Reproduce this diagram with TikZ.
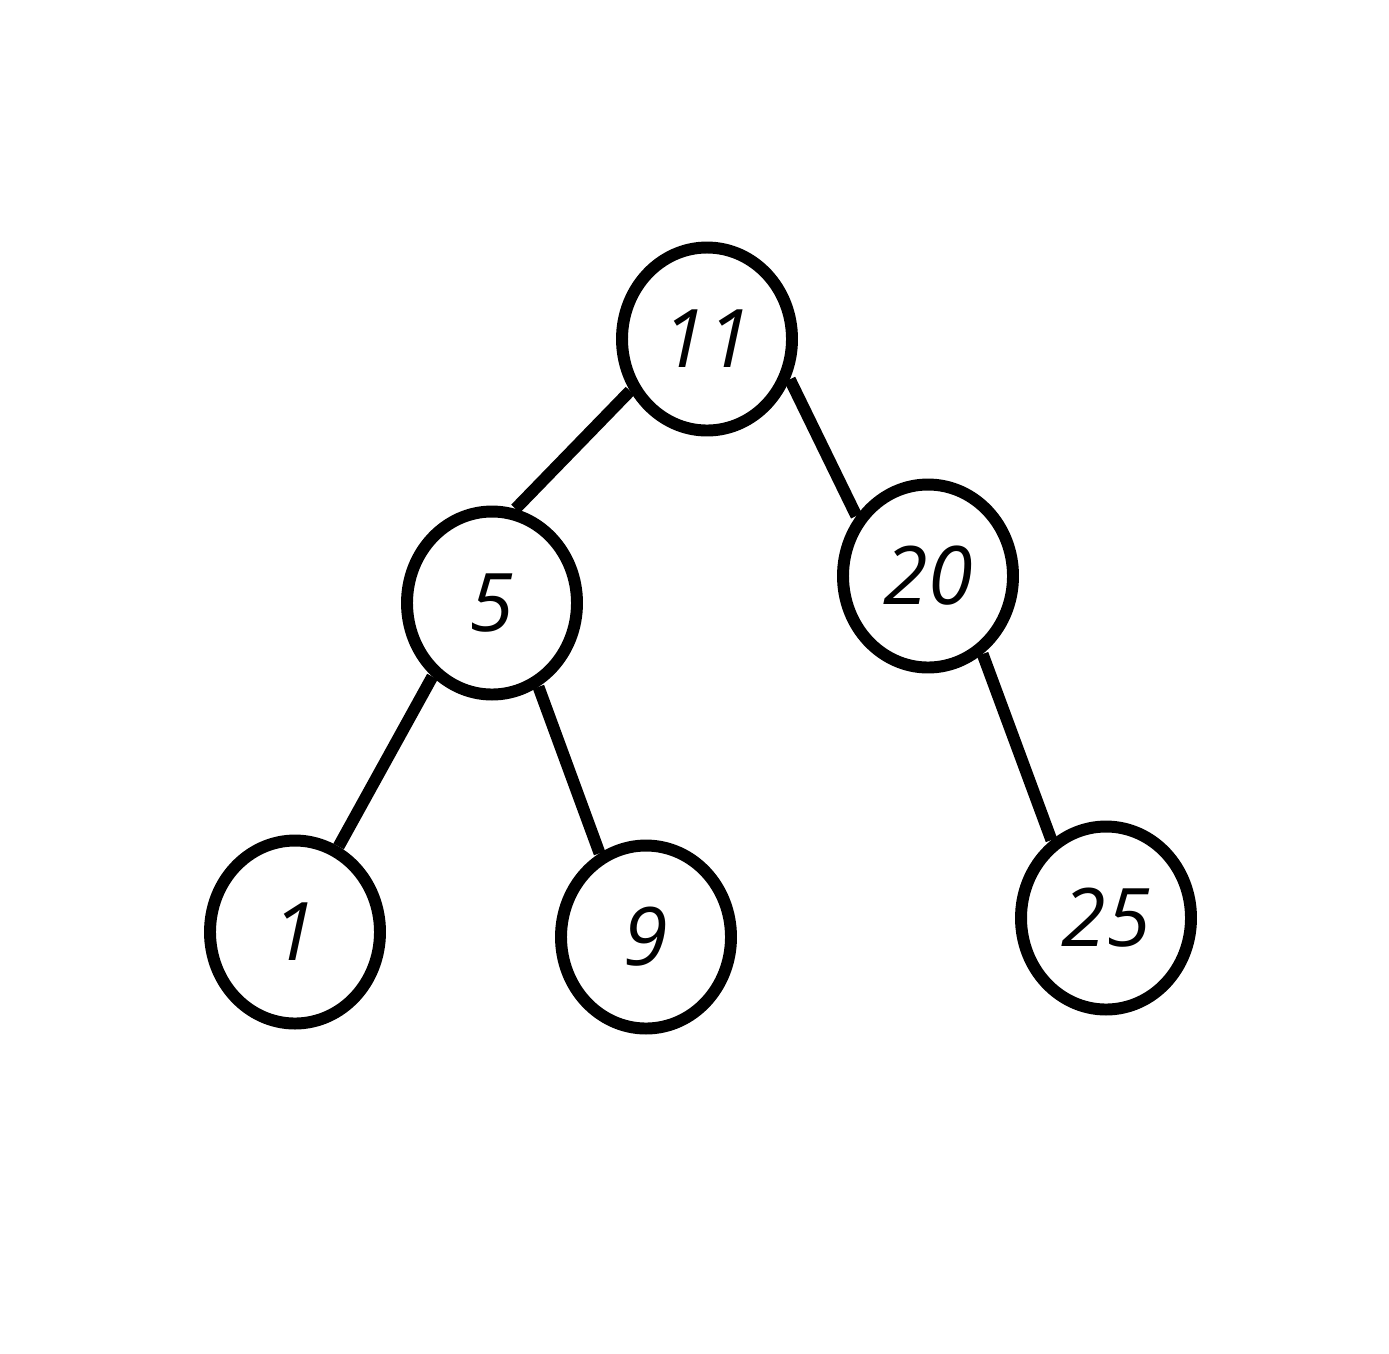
\documentclass[tikz,border=0pt]{standalone}
\usepackage{fontspec}
\setmainfont{Open Sans}
\usetikzlibrary{shapes.geometric}

\begin{document}
\begin{tikzpicture}[line width=3.4pt,
    every node/.style={draw,ellipse,minimum width=1.70cm,minimum height=1.83cm,inner sep=0pt,font=\fontsize{23}{26}\selectfont\itshape}]
    \useasboundingbox (0,0) rectangle (13.89,-13.53);
    \draw (7.07,-3.39)node(n11){11} (4.92,-6.03)node(n5){5} (9.28,-5.76)node(n20){20}
    (2.95,-9.32)node(n1){1} (6.46,-9.37)node(n9){9} (11.06,-9.18)node(n25){25}
    (n11.214)--(n5.76) (n11.334)--(n20.140) (n5.231)--(n1.63) (n5.299)--(n9.119) (n20.305)--(n25.125);
\end{tikzpicture}
\end{document}
